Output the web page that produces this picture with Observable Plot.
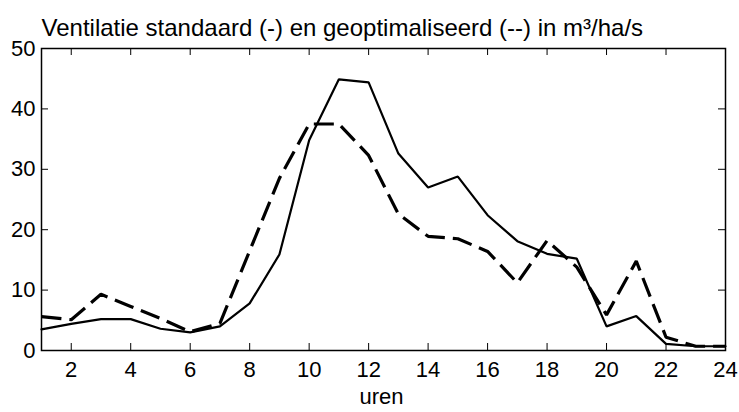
<!DOCTYPE html>
<html>
<head>
<meta charset="utf-8">
<script src="https://cdn.jsdelivr.net/npm/d3@7"></script>
<script src="https://cdn.jsdelivr.net/npm/@observablehq/plot@0.6"></script>
<style>
  html, body { margin: 0; padding: 0; background: #fff; }
  svg { display: block; }
</style>
</head>
<body>
<div id="chart"></div>
<script>
const title = "Ventilatie standaard (-) en geoptimaliseerd (--) in m³/ha/s";
const xLabel = "uren";
const hours = [1,2,3,4,5,6,7,8,9,10,11,12,13,14,15,16,17,18,19,20,21,22,23,24];
const standaard = [3.5,4.4,5.2,5.2,3.6,3.0,4.0,7.8,15.9,34.8,44.9,44.4,32.6,27.0,28.8,22.4,18.1,16.0,15.2,4.0,5.7,1.1,0.7,0.7];
const geoptimaliseerd = [5.6,5.1,9.3,7.3,5.3,3.1,4.5,16.5,28.5,37.5,37.5,32.3,22.6,18.9,18.5,16.4,11.2,18.2,13.8,5.9,14.8,2.2,0.7,0.7];
const xTicks = [2,4,6,8,10,12,14,16,18,20,22,24];
const yTicks = [0,10,20,30,40,50];

const W = 739, H = 412;
const mL = 41, mR = 14, mT = 48, mB = 62;
const plotW = W - mL - mR, plotH = H - mT - mB;
const tickLen = 7;

const chart = Plot.plot({
  width: W,
  height: H,
  marginLeft: mL,
  marginRight: mR,
  marginTop: mT,
  marginBottom: mB,
  style: {fontFamily: "'Liberation Sans', Arial, sans-serif", fontSize: "22px", color: "#000", background: "#fff"},
  x: {domain: [1, 24]},
  y: {domain: [0, 50]},
  marks: [
    Plot.axisX({ticks: xTicks, tickSize: 0, tickPadding: 11, label: null, fontSize: 22, tickFormat: d => String(d)}),
    Plot.axisY({ticks: yTicks, tickSize: 0, tickPadding: 6, label: null, fontSize: 22, tickFormat: d => String(d)}),
    Plot.tickX(xTicks, {x: d => d, insetTop: plotH - tickLen, stroke: "#000", strokeWidth: 1}),
    Plot.tickX(xTicks, {x: d => d, insetBottom: plotH - tickLen, stroke: "#000", strokeWidth: 1}),
    Plot.tickY(yTicks, {y: d => d, insetRight: plotW - tickLen, stroke: "#000", strokeWidth: 1}),
    Plot.tickY(yTicks, {y: d => d, insetLeft: plotW - tickLen, stroke: "#000", strokeWidth: 1}),
    Plot.line(hours, {x: d => d, y: (d, i) => geoptimaliseerd[i], stroke: "#000", strokeWidth: 3.2, strokeDasharray: "20,8", strokeLinejoin: "miter", strokeLinecap: "butt"}),
    Plot.line(hours, {x: d => d, y: (d, i) => standaard[i], stroke: "#000", strokeWidth: 2.2, strokeLinejoin: "miter"}),
    Plot.frame({stroke: "#000", strokeWidth: 1.5}),
    Plot.text([title], {text: d => d, frameAnchor: "top-left", textAnchor: "start", lineAnchor: "bottom", dy: -13, fontSize: 24, fill: "#000"}),
    Plot.text([xLabel], {text: d => d, frameAnchor: "bottom", textAnchor: "middle", lineAnchor: "bottom", dy: 53, dx: -2, fontSize: 22, fill: "#000"})
  ]
});
document.getElementById("chart").appendChild(chart);
</script>
</body>
</html>
